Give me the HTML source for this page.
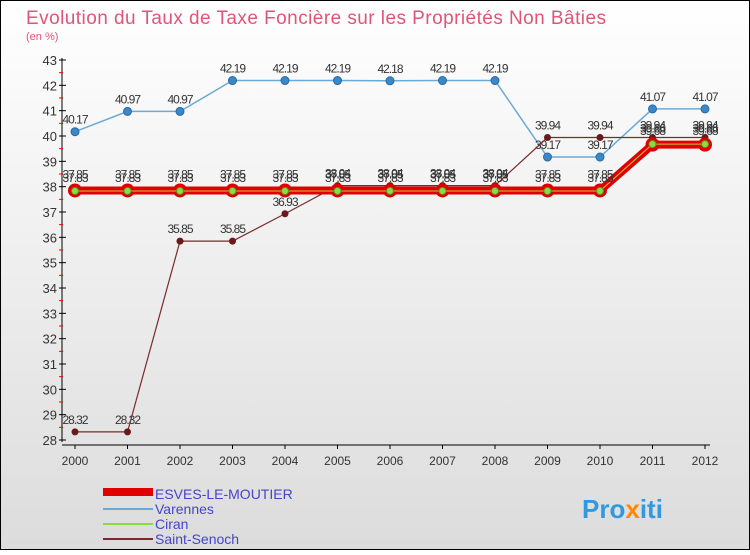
<!DOCTYPE html>
<html><head><meta charset="utf-8"><style>
body{margin:0;width:750px;height:550px;overflow:hidden;font-family:"Liberation Sans",sans-serif}
</style></head><body>
<svg width="750" height="550" xmlns="http://www.w3.org/2000/svg">
<defs><linearGradient id="bg" x1="0" y1="0" x2="0" y2="1"><stop offset="0" stop-color="#ffffff"/><stop offset="1" stop-color="#dcdcdc"/></linearGradient></defs>
<rect x="0.5" y="0.5" width="749" height="549" fill="url(#bg)" stroke="#000"/>
<text x="26" y="24" font-size="19" fill="#e05577" textLength="580" lengthAdjust="spacing">Evolution du Taux de Taxe Foncière sur les Propriétés Non Bâties</text>
<text x="26" y="40" font-size="11" fill="#e05577">(en %)</text>
<g id="axes"></g>
<g id="series"></g>
<g id="legend">
<rect x="103" y="488" width="50" height="8" fill="#e00000"/>
<text x="155" y="499" font-size="14" fill="#4444cc">ESVES-LE-MOUTIER</text>
<line x1="103" y1="509" x2="153" y2="509" stroke="#6aaad8" stroke-width="2"/>
<text x="155" y="514" font-size="14" fill="#4444cc">Varennes</text>
<line x1="103" y1="524" x2="153" y2="524" stroke="#88dd44" stroke-width="2"/>
<text x="155" y="529" font-size="14" fill="#4444cc">Ciran</text>
<line x1="103" y1="539" x2="153" y2="539" stroke="#7a2a2a" stroke-width="2"/>
<text x="155" y="544" font-size="14" fill="#4444cc">Saint-Senoch</text>
</g>
<text x="582" y="518" font-size="26" font-weight="bold" fill="#3399dd">Pro<tspan fill="#ff8800">x</tspan>iti</text>
</svg>
<script>
const years=[2000,2001,2002,2003,2004,2005,2006,2007,2008,2009,2010,2011,2012];
const esves=[37.85,37.85,37.85,37.85,37.85,37.85,37.85,37.85,37.85,37.85,37.85,39.66,39.66];
const varennes=[40.17,40.97,40.97,42.19,42.19,42.19,42.18,42.19,42.19,39.17,39.17,41.07,41.07];
const ciran=[37.83,37.83,37.83,37.83,37.83,37.83,37.83,37.83,37.83,37.83,37.83,39.68,39.68];
const senoch=[28.32,28.32,35.85,35.85,36.93,38.04,38.04,38.04,38.04,39.94,39.94,39.94,39.94];
const yTicks=[28,29,30,31,32,33,34,35,36,37,38,39,40,41,42,43];
const NS="http://www.w3.org/2000/svg";
const X=i=>75+i*52.5, Y=v=>60+(43-v)*(380/15);
function mk(p,t,a){const e=document.createElementNS(NS,t);for(const k in a)e.setAttribute(k,a[k]);p.appendChild(e);return e;}
const ax=document.getElementById('axes');
let l=mk(ax,'line',{x1:62,y1:58,x2:62,y2:442,stroke:'#000'});


l=mk(ax,'line',{x1:62,y1:445,x2:710,y2:445,stroke:'#000'});


yTicks.forEach(v=>{const y=Y(v);
 mk(ax,'line',{x1:59,y1:y,x2:66,y2:y,stroke:'#000'});
 if(v<43)mk(ax,'line',{x1:59,y1:Y(v+0.5),x2:63,y2:Y(v+0.5),stroke:'#e00'});
 const t=mk(ax,'text',{x:57,y:y+5,'font-size':13,fill:'#333','text-anchor':'end'});t.textContent=v;
 
 });
years.forEach((yr,i)=>{mk(ax,'line',{x1:X(i),y1:445,x2:X(i),y2:449,stroke:'#000'});
 const t=mk(ax,'text',{x:X(i),y:465,'font-size':12,fill:'#333','text-anchor':'middle'});t.textContent=yr;
 
 });
const sg=document.getElementById('series');
function pts(a){return a.map((v,i)=>X(i)+','+Y(v)).join(' ');}
function labels(a,dy){a.forEach((v,i)=>{const t=mk(sg,'text',{x:X(i),y:Y(v)+dy,'font-size':12,fill:'#333','text-anchor':'middle','letter-spacing':'-1'});
 t.textContent=String(v);
 
 });}
l=mk(sg,'polyline',{points:pts(varennes),fill:'none',stroke:'#6aaad8','stroke-width':1.5});


varennes.forEach((v,i)=>{const c=mk(sg,'circle',{cx:X(i),cy:Y(v),r:4,fill:'#3a88c8',stroke:'#2a6aa0'});
 
 });
labels(varennes,-8);
l=mk(sg,'polyline',{points:pts(senoch),fill:'none',stroke:'#7a2a2a','stroke-width':1.2});


senoch.forEach((v,i)=>{const c=mk(sg,'circle',{cx:X(i),cy:Y(v),r:3.5,fill:'#6a1a1a'});
 
 });
labels(senoch,-8);
l=mk(sg,'polyline',{points:pts(esves),fill:'none',stroke:'#e00000','stroke-width':8});


esves.forEach((v,i)=>{const c=mk(sg,'circle',{cx:X(i),cy:Y(v),r:7,fill:'#e00000'});
 
 });
l=mk(sg,'polyline',{points:pts(ciran),fill:'none',stroke:'#c8c840','stroke-width':1});


ciran.forEach((v,i)=>{const c=mk(sg,'circle',{cx:X(i),cy:Y(v),r:3.5,fill:'#88dd44',stroke:'#559922'});
 
 });
labels(esves,-12);
labels(ciran,-9);
</script>
</body></html>
